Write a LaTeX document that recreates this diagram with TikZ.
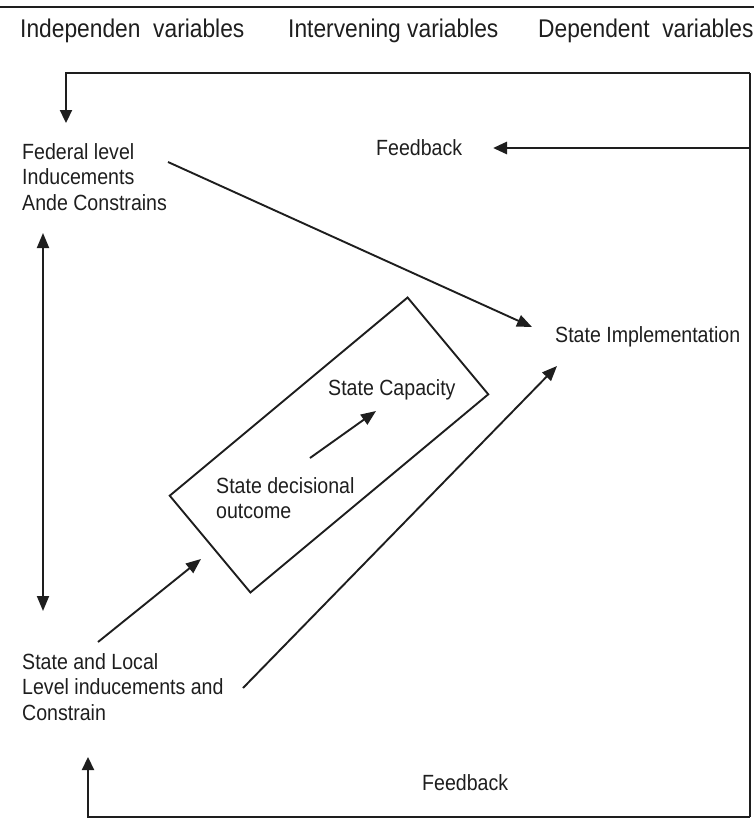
\documentclass[tikz,border=0pt]{standalone}
\usepackage{fontspec}
\setmainfont{Liberation Sans}[FakeStretch=0.89]
\usetikzlibrary{arrows.meta}
\definecolor{ink}{HTML}{1E1E1E}
\begin{document}
\begin{tikzpicture}[x=1pt,y=-1pt,
  every node/.style={inner sep=0pt,anchor=west,text=ink},
  label/.style={font=\fontsize{22}{25.5}\selectfont,align=left},
  head/.style={font=\fontsize{25.6}{28}\selectfont},
  tip/.style={-{Triangle[length=15pt,width=12pt]}},
  link/.style={draw=ink,line width=1.9pt,tip},
  loop/.style={draw=ink,line width=2.3pt},
  loophead/.style={draw=ink,line width=2.3pt,-{Triangle[length=13pt,width=12pt]}},
  frame/.style={draw=ink,line width=1.9pt,rectangle,anchor=center,minimum width=309.6pt,minimum height=126pt,rotate=39.8}]
\useasboundingbox (0,0) rectangle (754,819);

% header rule and column titles
\draw[draw=ink,line width=1.9pt] (0,7) -- (754,7);
\node[head] (hind) at (20,31) {Independen\ \ variables};
\node[head] (hint) at (288,31) {Intervening variables};
\node[head] (hdep) at (538,31) {Dependent\ \ variables};

% text blocks
\node[label] (fed) at (22,177) {Federal level\\Inducements\\Ande Constrains};
\node[label] (fbtop) at (376,148) {Feedback};
\node[label] (impl) at (555,337) {State Implementation};
\node[label] (cap) at (328,390) {State Capacity};
\node[label] (dec) at (216,498) {State decisional\\outcome};
\node[label] (local) at (22,687) {State and Local\\Level inducements and\\Constrain};
\node[label] (fbbot) at (422,783) {Feedback};

% tilted frame around the intervening variables
\node[frame] (box) at (329,445) {};

% connector end points
\coordinate (fedout) at (168,162);
\coordinate (implin) at (532,327);
\coordinate (implin2) at (557,366);
\coordinate (localout) at (243,688);
\coordinate (localout2) at (98,642);
\coordinate (boxin) at (201,559);
\coordinate (decout) at (310,458);
\coordinate (capin) at (376,411);
\coordinate (fedbot) at (43,233);
\coordinate (localtop) at (43,611);
\coordinate (rtop) at (750,73);
\coordinate (rmid) at (750,148);
\coordinate (rbot) at (750,817);
\coordinate (fbtip) at (493,148);
\coordinate (fedin) at (66,123);
\coordinate (localin) at (88,757);

% causal links
\draw[link] (fedout) -- (implin);
\draw[link] (localout) -- (implin2);
\draw[link] (localout2) -- (boxin);
\draw[link] (decout) -- (capin);
\draw[draw=ink,line width=1.9pt,{Triangle[length=15pt,width=12pt]}-{Triangle[length=15pt,width=12pt]}] (fedbot) -- (localtop);

% feedback loops
\draw[loop] (rtop) -- (rbot);
\draw[loophead] (rtop) -| (fedin);
\draw[loophead] (rbot) -| (localin);
\draw[draw=ink,line width=2.8pt,-{Triangle[length=14pt,width=12pt]}] (rmid) -- (fbtip);
\end{tikzpicture}
\end{document}
